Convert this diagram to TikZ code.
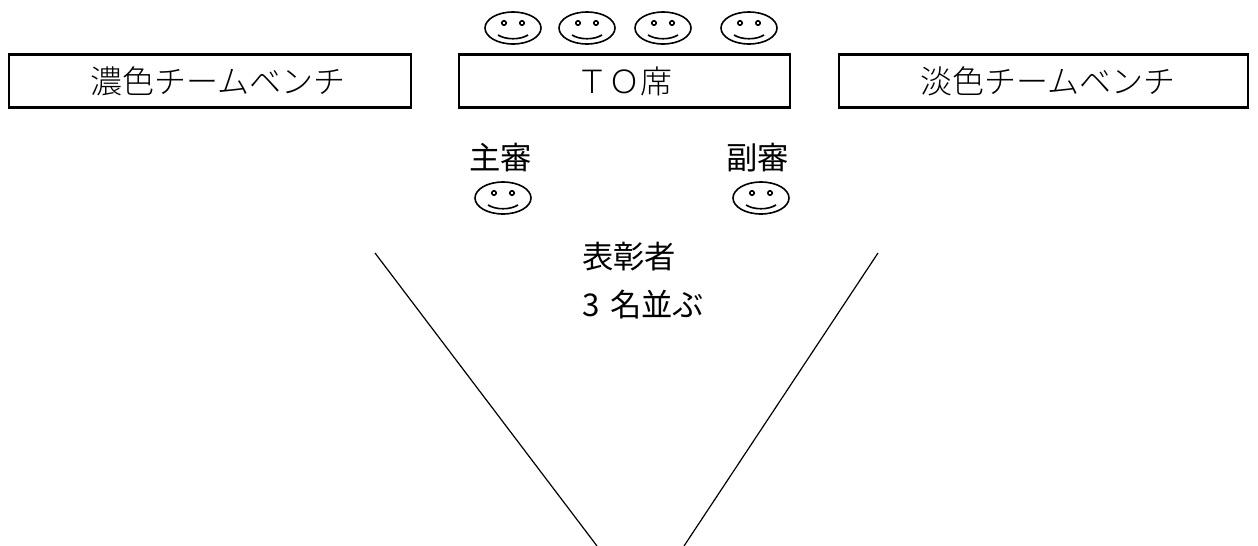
\documentclass[tikz,border=0pt]{standalone}
\usepackage{fontspec}
\setmainfont{Noto Sans CJK JP}
\newfontfamily\thinfont{Noto Sans CJK JP Light}
\tikzset{
    benchbox/.style = {draw, line width=1.8, minimum height=40, inner sep=0},
    thintext/.style = {font=\thinfont\fontsize{24}{24}\selectfont, inner sep=0},
    thicktext/.style = {font=\fontsize{23.5}{23.5}\selectfont, inner sep=0},
    smiley/.pic = {
        \draw [line width=1.2] (0,0) ellipse [x radius=28, y radius=16];
        \draw [line width=1.2] (-9,-5) circle [radius=2.2];
        \draw [line width=1.2] (9,-5) circle [radius=2.2];
        \draw [line width=1.2] (-15,7) .. controls (-7,12) and (7,12) .. (15,7);
    }
}

\begin{document}
\begin{tikzpicture}[x=0.75pt,y=-0.75pt]
        \useasboundingbox (0,0) rectangle (1258,546);
        \node [benchbox, minimum width=301.5] (darkbench) at (210,81) {};
        \node [benchbox, minimum width=248] (tobench) at (624.5,81) {};
        \node [benchbox, minimum width=306.5] (lightbench) at (1043.5,81) {};
        \node [thintext] (darklabel) at (218,81) {濃色チームベンチ};
        \node [thintext] (tolabel) at (tobench.center) {ＴＯ席};
        \node [thintext] (lightlabel) at (1048,81) {淡色チームベンチ};
        \pic at (513,28) {smiley};
        \pic at (587,28) {smiley};
        \pic at (663,28) {smiley};
        \pic at (749,28) {smiley};
        \pic at (503,198) {smiley};
        \pic at (761,198) {smiley};
        \node [thicktext] (mainref) at (500.5,158) {主審};
        \node [thicktext] (subref) at (757.5,158) {副審};
        \node [thicktext] (winners) at (629,257) {表彰者};
        \node [thicktext, anchor=west] (winnercount) at (582,305) {3\,\,名並ぶ};
        \coordinate (lefttop) at (375,253);
        \coordinate (leftbottom) at (597,546);
        \coordinate (righttop) at (878,253);
        \coordinate (rightbottom) at (684,546);
        \draw [line width=0.9] (lefttop) -- (leftbottom);
        \draw [line width=0.9] (righttop) -- (rightbottom);
    \end{tikzpicture}
\end{document}
